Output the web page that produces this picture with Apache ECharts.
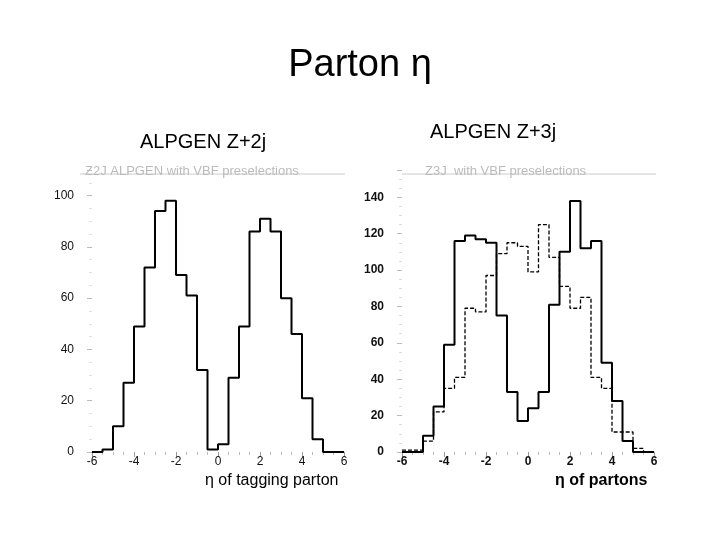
<!DOCTYPE html>
<html>
<head>
<meta charset="utf-8">
<script src="https://cdn.jsdelivr.net/npm/echarts@6/dist/echarts.min.js"></script>
<style>body{margin:0;background:#fff}#c{width:720px;height:540px}</style>
</head>
<body>
<div id="c"></div>
<script>
// bin edges: -6 to 6, width 0.5
var binLow = -6, binWidth = 0.5;
var z2jTagging = [0, 1, 10, 27, 49, 72, 94, 98, 69, 61, 32, 1, 3, 29, 49, 86, 91, 86, 60, 46, 21, 5, 0, 0];
var z3jSolid = [0, 0, 9, 25, 59, 116, 119, 117, 115, 75, 33, 17, 24, 33, 81, 110, 138, 112, 116, 49, 28, 6, 0, 0];
var z3jDashed = [1, 1, 6, 22, 35, 41, 79, 77, 97, 109, 115, 113, 99, 125, 107, 91, 79, 85, 41, 35, 11, 11, 2, 0];

function toSteps(vals) {
  var pts = vals.map(function (v, i) { return [binLow + i * binWidth, v]; });
  pts.push([binLow + vals.length * binWidth, vals[vals.length - 1]]);
  return pts;
}

var font = 'Liberation Sans, Arial, sans-serif';
function xAxis(idx) {
  return {
    gridIndex: idx, type: 'value', min: -6, max: 6, interval: 2,
    axisLine: { show: false, onZero: false },
    axisTick: { show: true, length: 5, lineStyle: { color: '#999' } },
    minorTick: { show: true, splitNumber: 4, length: 3, lineStyle: { color: '#bbb' } },
    splitLine: { show: false },
    axisLabel: { color: '#111', fontSize: 12, fontFamily: font, fontWeight: idx ? 'bold' : 'normal', margin: 4 }
  };
}
function yAxis(idx, max) {
  return {
    gridIndex: idx, type: 'value', min: 0, max: max, interval: 20,
    axisLine: { show: false, onZero: false },
    axisTick: { show: true, length: 5, lineStyle: { color: '#bbb' } },
    minorTick: { show: true, splitNumber: 4, length: 3, lineStyle: { color: '#ddd' } },
    splitLine: { show: false },
    axisLabel: { color: '#111', fontSize: 12, fontFamily: font, fontWeight: idx ? 'bold' : 'normal', margin: 18,
      showMaxLabel: false }
  };
}

var myChart = echarts.init(document.getElementById('c'));
var option = {
  animation: false,
  title: [
    { text: 'Parton η', left: 'center', top: 42, textStyle: { fontSize: 38, fontWeight: 'normal', color: '#000', fontFamily: font } },
    { text: 'ALPGEN Z+2j', left: 135, top: 127, textStyle: { fontSize: 20, fontWeight: 'normal', color: '#000', fontFamily: font } },
    { text: 'ALPGEN Z+3j', left: 425, top: 117, textStyle: { fontSize: 20, fontWeight: 'normal', color: '#000', fontFamily: font } },
    { text: 'Z2J ALPGEN with VBF preselections', left: 80, top: 160, textStyle: { fontSize: 13, fontWeight: 'normal', color: '#bbb', fontFamily: font } },
    { text: 'Z3J  with VBF preselections', left: 420, top: 160, textStyle: { fontSize: 13, fontWeight: 'normal', color: '#bbb', fontFamily: font } }
  ],
  graphic: [
    { type: 'line', shape: { x1: 80, y1: 174, x2: 345, y2: 174 }, style: { stroke: '#ccc', lineWidth: 1 } },
    { type: 'line', shape: { x1: 402, y1: 174, x2: 656, y2: 174 }, style: { stroke: '#ccc', lineWidth: 1 } },
    { type: 'text', left: 205, top: 473, style: { text: 'η of tagging parton', fontSize: 16, fill: '#000', fontFamily: font } },
    { type: 'text', left: 555, top: 473, style: { text: 'η of partons', fontSize: 16, fontWeight: 'bold', fill: '#000', fontFamily: font } }
  ],
  grid: [
    { left: 92, width: 252, top: 170, height: 282 },
    { left: 402, width: 252, top: 170, height: 282 }
  ],
  xAxis: [xAxis(0), xAxis(1)],
  yAxis: [yAxis(0, 110), yAxis(1, 155)],
  series: [
    { type: 'line', xAxisIndex: 0, yAxisIndex: 0, step: 'end', symbol: 'none', data: toSteps(z2jTagging),
      lineStyle: { color: '#000', width: 2 } },
    { type: 'line', xAxisIndex: 1, yAxisIndex: 1, step: 'end', symbol: 'none', data: toSteps(z3jSolid),
      lineStyle: { color: '#000', width: 2 } },
    { type: 'line', xAxisIndex: 1, yAxisIndex: 1, step: 'end', symbol: 'none', data: toSteps(z3jDashed),
      lineStyle: { color: '#000', width: 1.3, type: [4, 2] } }
  ]
};
myChart.setOption(option);
</script>
</body>
</html>
